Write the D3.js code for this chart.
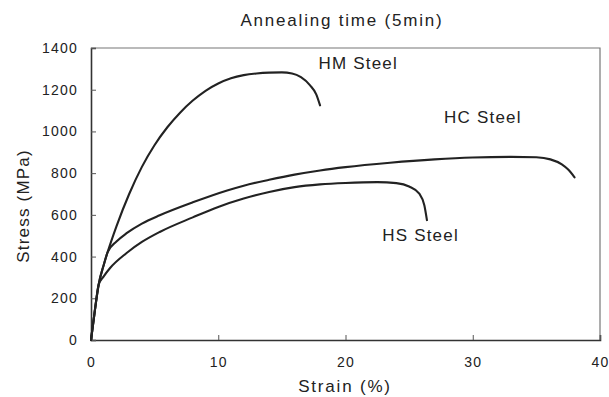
<!DOCTYPE html>
<html>
<head>
<meta charset="utf-8">
<script src="https://cdn.jsdelivr.net/npm/d3@7"></script>
<style>
  html, body { margin: 0; padding: 0; background: #fff; }
  svg text { font-family: "Liberation Sans", Arial, sans-serif; fill: #222; }
</style>
</head>
<body>
<div id="chart"></div>
<script>
const TITLE = "Annealing time (5min)";
const X_LABEL = "Strain (%)";
const Y_LABEL = "Stress (MPa)";
const X_TICKS = [0, 10, 20, 30, 40];
const Y_TICKS = [0, 200, 400, 600, 800, 1000, 1200, 1400];

// [strain %, stress MPa]
const hmSteel = [
  [0, 0], [0.3, 140], [0.6, 265], [1.0, 360], [1.3, 420], [2, 545], [3, 700],
  [4, 830], [5, 935], [6, 1020], [7, 1090], [8, 1148], [9, 1195], [10, 1230],
  [11, 1255], [12, 1270], [13, 1278], [14, 1282], [15, 1283], [15.8, 1278],
  [16.5, 1260], [17.2, 1222], [17.7, 1178], [18, 1125]
];
const hcSteel = [
  [0, 0], [0.3, 140], [0.6, 265], [1.0, 360], [1.3, 420], [2, 472], [2.8, 512],
  [4, 558], [5.4, 598], [8, 660], [10.7, 717], [12, 740], [14, 768], [16, 793],
  [18, 813], [20, 829], [23.5, 850], [27, 866], [30, 875], [33, 878], [35, 876],
  [36.1, 866], [37, 842], [37.5, 817], [38, 780]
];
const hsSteel = [
  [0, 0], [0.3, 140], [0.6, 265], [1.0, 305], [1.5, 345], [2.8, 417], [4, 470],
  [5.4, 518], [8, 588], [10, 638], [12, 678], [14, 710], [16, 733], [18, 746],
  [20, 753], [22.5, 757], [24, 752], [25, 736], [25.8, 702], [26.2, 645], [26.4, 575]
];

const seriesLabels = [
  { name: "HM Steel", x: 21.0, y: 1328 },
  { name: "HC Steel", x: 30.8, y: 1069 },
  { name: "HS Steel", x: 25.9, y: 499 }
];

const W = 609, H = 397;
const svg = d3.select("#chart").append("svg")
  .attr("width", W)
  .attr("height", H);

const x = d3.scaleLinear().domain([0, 40]).range([91, 600]);
const y = d3.scaleLinear().domain([0, 1400]).range([340, 48]);

// frame top / right
svg.append("path")
  .attr("d", `M${x(0)},${y(1400)}H${x(40)}V${y(0)}`)
  .attr("fill", "none")
  .attr("stroke", "#777")
  .attr("stroke-width", 1.2);

// x axis (ticks point inward)
const xAxis = svg.append("g")
  .attr("transform", `translate(0,${y(0)})`)
  .call(d3.axisBottom(x).tickValues(X_TICKS).tickSize(-5).tickPadding(17).tickFormat(d3.format("d")));
xAxis.select(".domain").attr("stroke", "#333").attr("stroke-width", 1.6);
xAxis.selectAll(".tick line").attr("stroke", "#555");
xAxis.selectAll(".tick text")
  .style("font-size", "14px")
  .style("letter-spacing", "1.2px")
  .attr("fill", "#222");

// y axis (ticks point inward)
const yAxis = svg.append("g")
  .attr("transform", `translate(${x(0)},0)`)
  .call(d3.axisLeft(y).tickValues(Y_TICKS).tickSize(-5).tickPadding(13).tickFormat(d3.format("d")));
yAxis.select(".domain").attr("stroke", "#333").attr("stroke-width", 1.6);
yAxis.selectAll(".tick line").attr("stroke", "#555");
yAxis.selectAll(".tick text")
  .style("font-size", "14px")
  .style("letter-spacing", "1.2px")
  .attr("fill", "#222");

const line = d3.line()
  .x(d => x(d[0]))
  .y(d => y(d[1]))
  .curve(d3.curveMonotoneX);

[hmSteel, hcSteel, hsSteel].forEach(series => {
  svg.append("path")
    .datum(series)
    .attr("fill", "none")
    .attr("stroke", "#222")
    .attr("stroke-width", 2.1)
    .attr("stroke-linecap", "round")
    .attr("d", line);
});

svg.selectAll(".series-label")
  .data(seriesLabels)
  .enter()
  .append("text")
  .attr("class", "series-label")
  .attr("x", d => x(d.x))
  .attr("y", d => y(d.y))
  .attr("text-anchor", "middle")
  .attr("dominant-baseline", "central")
  .style("font-size", "17px")
  .style("letter-spacing", "1.2px")
  .text(d => d.name);

svg.append("text")
  .attr("x", 342)
  .attr("y", 20)
  .attr("text-anchor", "middle")
  .attr("dominant-baseline", "central")
  .style("font-size", "17px")
  .style("letter-spacing", "1.8px")
  .text(TITLE);

svg.append("text")
  .attr("x", 345)
  .attr("y", 386)
  .attr("text-anchor", "middle")
  .attr("dominant-baseline", "central")
  .style("font-size", "17px")
  .style("letter-spacing", "1.8px")
  .text(X_LABEL);

svg.append("text")
  .attr("transform", "translate(23,206) rotate(-90)")
  .attr("text-anchor", "middle")
  .attr("dominant-baseline", "central")
  .style("font-size", "17px")
  .style("letter-spacing", "1.2px")
  .text(Y_LABEL);
</script>
</body>
</html>
